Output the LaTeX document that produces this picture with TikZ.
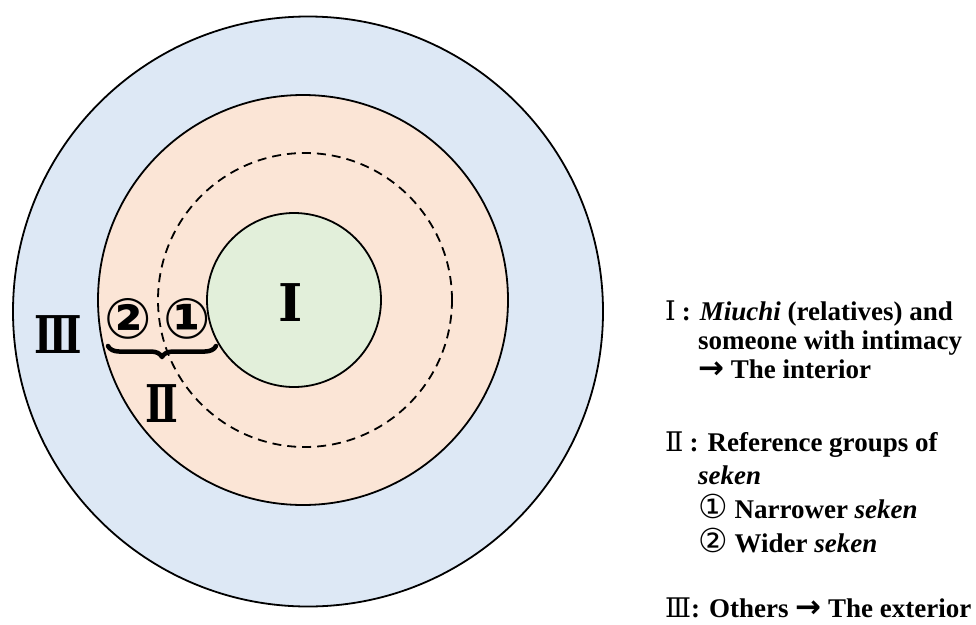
\documentclass[tikz,border=0pt]{standalone}
\usepackage{fontspec}
\setmainfont{Liberation Serif}[ItalicFont={Liberation Serif Italic},BoldFont={Liberation Serif Bold},BoldItalicFont={Liberation Serif Bold Italic}]
\newfontfamily\numfont{DejaVu Serif}
\newfontfamily\symfont{DejaVu Sans}
\usetikzlibrary{decorations.pathreplacing}
\definecolor{outerblue}{HTML}{DDE8F5}
\definecolor{midorange}{HTML}{FBE5D6}
\definecolor{innergreen}{HTML}{E2EFDA}
\newcommand{\arr}{{\symfont\bfseries\fontsize{31}{30}\selectfont →}}
\newcommand{\narrow}[1]{\scalebox{0.75}[1]{#1}}

\begin{document}
\begin{tikzpicture}[x=1pt,y=-1pt,line cap=round,line join=round,every node/.style={inner sep=0pt},
  ring/.style={circle,draw,line width=1.8pt},
  biglabel/.style={font=\fontsize{52}{60}\selectfont\bfseries\numfont},
  circnum/.style={font=\fontsize{56}{60}\selectfont\bfseries\symfont},
  legend/.style={anchor=base west,font=\fontsize{27}{30}\selectfont\bfseries},
  keynum/.style={font=\fontsize{34}{30}\selectfont\mdseries\symfont}]
  \useasboundingbox (0,0) rectangle (976,624);
  \node[ring,fill=outerblue,minimum size=590pt] (outer) at (308,311.5) {};
  \node[ring,fill=midorange,minimum size=410pt] (middle) at (303,300) {};
  \node[circle,draw,line width=1.8pt,dash pattern=on 9pt off 6pt,line cap=butt,minimum size=294pt] (narrow) at (305,300) {};
  \node[ring,fill=innergreen,minimum size=174pt] (inner) at (294,300) {};
  \node[biglabel] (lone) at (291,303) {Ⅰ};
  \node[biglabel] (lthree) at (58,335) {\narrow{Ⅲ}};
  \node[biglabel] (ltwo) at (162,404) {\narrow{Ⅱ}};
  \node[circnum] (ctwo) at (128,319) {②};
  \node[circnum] (cone) at (187,319) {①};
  \coordinate (bleft) at (108,346);
  \coordinate (bright) at (216,346);
  \draw[line width=4.5pt,decorate,decoration={brace,mirror,amplitude=11pt}] (bleft) -- (bright);
  \node[legend] (keyone) at (665,320) {{\numfont\mdseries Ⅰ}\hspace{6pt}: \textit{Miuchi} (relatives) and};
  \node[legend] (keyoneb) at (698,349) {someone with intimacy};
  \node[legend] (keyonec) at (698,378) {\arr\ The interior};
  \node[legend] (keytwo) at (665,451) {{\numfont\mdseries Ⅱ}\hspace{6pt}: Reference groups of};
  \node[legend] (keytwob) at (698,484) {\textit{seken}};
  \node[legend] (keytwoc) at (698,518) {{\symfont\mdseries\fontsize{33}{30}\selectfont ①} Narrower \textit{seken}};
  \node[legend] (keytwod) at (698,552) {{\symfont\mdseries\fontsize{33}{30}\selectfont ②} Wider \textit{seken}};
  \node[legend] (keythree) at (665,617) {{\numfont\mdseries Ⅲ}: Others \arr\ The exterior};
\end{tikzpicture}
\end{document}
